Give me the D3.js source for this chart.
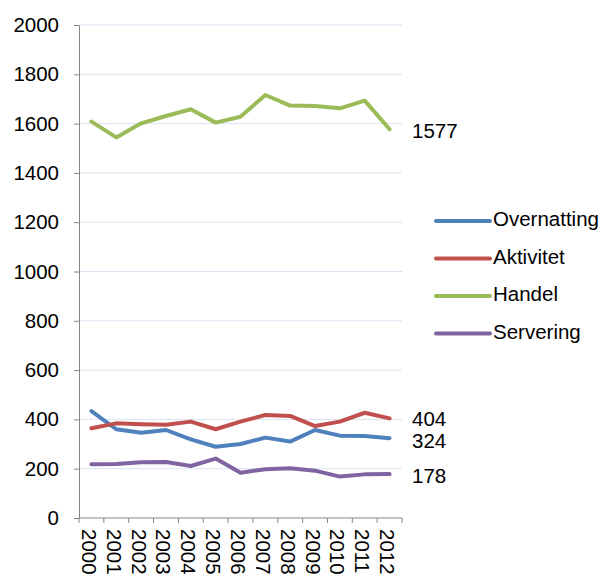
<!DOCTYPE html>
<html>
<head>
<meta charset="utf-8">
<script src="https://cdn.jsdelivr.net/npm/d3@7"></script>
<style>
  body { margin: 0; background: #fff; }
  text { font-family: "Liberation Sans", Arial, sans-serif; fill: #000; }
</style>
</head>
<body>
<svg id="chart"></svg>
<script>
const years = ["2000", "2001", "2002", "2003", "2004", "2005", "2006",
  "2007", "2008", "2009", "2010", "2011", "2012"];
const seriesNames = ["Overnatting", "Aktivitet", "Handel", "Servering"];
const overnatting = [434, 360, 346, 357, 319, 289, 300, 326, 310, 357, 334, 333, 324];
const aktivitet = [364, 384, 380, 378, 391, 360, 391, 418, 414, 373, 391, 427, 404];
const handel = [1608, 1544, 1601, 1631, 1658, 1604, 1628, 1716, 1673, 1671, 1662, 1693, 1577];
const servering = [218, 219, 226, 227, 211, 241, 184, 198, 202, 192, 168, 177, 178];
const yTicks = [0, 200, 400, 600, 800, 1000, 1200, 1400, 1600, 1800, 2000];

const colors = ["#4F81BD", "#C0504D", "#9BBB59", "#8064A2"];
const allSeries = [overnatting, aktivitet, handel, servering];

const width = 605;
const height = 579;
const fontSize = "20.5px";
const svg = d3.select("#chart").attr("width", width).attr("height", height);

const x = d3.scaleBand().domain(years).range([79, 402]);
const y = d3.scaleLinear().domain([0, 2000]).range([518, 25]);

// gridlines
svg.append("g")
  .selectAll("line")
  .data(yTicks.slice(1))
  .enter()
  .append("line")
  .attr("x1", 79)
  .attr("x2", 402)
  .attr("y1", (d) => y(d))
  .attr("y2", (d) => y(d))
  .attr("stroke", "#D9E4F2")
  .attr("stroke-width", 1);

// y axis
const yAxis = svg.append("g")
  .attr("transform", "translate(79,0)")
  .call(d3.axisLeft(y).tickValues(yTicks).tickFormat(d3.format("d")).tickSize(5).tickPadding(15));
yAxis.selectAll("text").style("font-size", fontSize);
yAxis.select(".domain").attr("stroke", "#868686");
yAxis.selectAll(".tick line").attr("stroke", "#868686");

// x axis with ticks on category boundaries
const xAxis = svg.append("g").attr("transform", "translate(0,518)");
xAxis.append("line")
  .attr("x1", 79).attr("x2", 402)
  .attr("stroke", "#868686");
xAxis.selectAll("line.tick")
  .data(years.concat(["end"]))
  .enter()
  .append("line")
  .attr("class", "tick")
  .attr("x1", (d, i) => 79 + i * x.step())
  .attr("x2", (d, i) => 79 + i * x.step())
  .attr("y1", 0)
  .attr("y2", 5)
  .attr("stroke", "#868686");
xAxis.selectAll("text")
  .data(years)
  .enter()
  .append("text")
  .attr("transform", (d) => `translate(${x(d) + x.bandwidth() / 2 - 9.5},11) rotate(90)`)
  .style("font-size", fontSize)
  .text((d) => d);

// lines
const line = d3.line()
  .x((d, i) => x(years[i]) + x.bandwidth() / 2)
  .y((d) => y(d));

svg.append("g")
  .selectAll("path")
  .data(allSeries)
  .enter()
  .append("path")
  .attr("d", line)
  .attr("fill", "none")
  .attr("stroke", (d, i) => colors[i])
  .attr("stroke-width", 4)
  .attr("stroke-linejoin", "round")
  .attr("stroke-linecap", "round");

// end labels
const endLabels = [
  { v: handel[12], dy: 3 },
  { v: aktivitet[12], dy: 2 },
  { v: overnatting[12], dy: 4 },
  { v: servering[12], dy: 3 }
];
svg.append("g")
  .selectAll("text")
  .data(endLabels)
  .enter()
  .append("text")
  .attr("x", 412)
  .attr("y", (d) => y(d.v) + d.dy)
  .attr("dominant-baseline", "middle")
  .style("font-size", fontSize)
  .text((d) => d.v);

// legend
const legend = svg.append("g").attr("transform", "translate(434,221)");
const rows = legend.selectAll("g")
  .data(seriesNames)
  .enter()
  .append("g")
  .attr("transform", (d, i) => `translate(0,${i * 37.5})`);
rows.append("line")
  .attr("x1", 2).attr("x2", 56)
  .attr("stroke", (d, i) => colors[i])
  .attr("stroke-width", 4)
  .attr("stroke-linecap", "round");
rows.append("text")
  .attr("x", 59)
  .attr("dominant-baseline", "middle")
  .style("font-size", fontSize)
  .text((d) => d);
</script>
</body>
</html>
